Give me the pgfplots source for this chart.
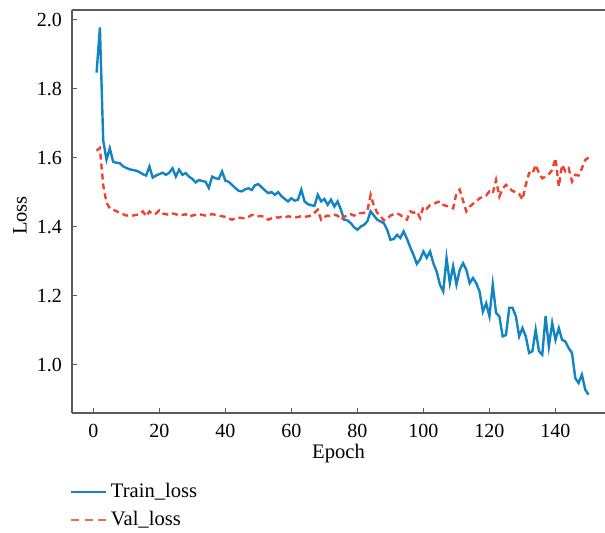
\documentclass[border=0pt]{standalone}
\usepackage{fontspec}
\setmainfont{Liberation Serif}
\usepackage{pgfplots}
\pgfplotsset{compat=1.18}
\definecolor{trainblue}{RGB}{18,132,196}
\definecolor{valred}{RGB}{240,66,50}
\definecolor{axgray}{RGB}{90,90,90}
\begin{document}
\begin{tikzpicture}
\begin{axis}[
  at={(0,0)}, anchor=south west,
  scale only axis,
  width=266.5pt, height=201.5pt,
  xmin=-6.45, xmax=155, ymin=0.86, ymax=2.0275,
  axis x line=box, axis y line=left,
  axis line style={-, draw=axgray, line width=0.75pt},
  y axis line style={-},
  every outer y axis line/.append style={-},
  xtick={0,20,40,60,80,100,120,140},
  ytick={1.0,1.2,1.4,1.6,1.8,2.0},
  xtick pos=left, ytick pos=left,
  tick align=inside,
  major tick length=2.6pt,
  every tick/.style={axgray, line width=0.6pt},
  /pgf/number format/assume math mode=true,
  yticklabel style={/pgf/number format/fixed, /pgf/number format/fixed zerofill, /pgf/number format/precision=1, anchor=east, inner sep=0pt, xshift=-4.85pt},
  xticklabel style={anchor=base, inner sep=0pt, yshift=-12.4pt},
  tick label style={font=\fontsize{10}{12}\selectfont},
  label style={font=\fontsize{10.3}{12}\selectfont},
  xlabel={Epoch},
  xlabel style={at={(axis description cs:0.5,0)}, anchor=base, yshift=-22.9pt},
  ylabel={Loss},
  ylabel style={at={(axis description cs:-0.0976,0.49)}, anchor=center, rotate=0},
  legend style={at={(axis description cs:0,0)}, anchor=north west, xshift=-1pt, yshift=-33pt, draw=none, fill=none, font=\fontsize{10.3}{12}\selectfont, row sep=1.2pt, inner sep=0pt},
  legend cell align=left,
]
\addplot[draw=trainblue, line width=1.2pt,
  legend image code/.code={\draw[trainblue, line width=0.7pt] (0pt,0pt) -- (17.5pt,0pt);}] coordinates {
(1,1.846)(2,1.977)(3,1.65)(4,1.594)(5,1.627)(6,1.588)(7,1.585)(8,1.584)(9,1.575)(10,1.57)
(11,1.566)(12,1.564)(13,1.562)(14,1.558)(15,1.552)(16,1.548)(17,1.574)(18,1.542)(19,1.548)(20,1.552)
(21,1.556)(22,1.550)(23,1.556)(24,1.569)(25,1.545)(26,1.565)(27,1.550)(28,1.555)(29,1.545)(30,1.538)
(31,1.528)(32,1.535)(33,1.532)(34,1.530)(35,1.512)(36,1.545)(37,1.540)(38,1.538)(39,1.560)(40,1.533)
(41,1.530)(42,1.521)(43,1.512)(44,1.504)(45,1.502)(46,1.508)(47,1.511)(48,1.506)(49,1.520)(50,1.523)
(51,1.514)(52,1.505)(53,1.497)(54,1.500)(55,1.492)(56,1.500)(57,1.488)(58,1.480)(59,1.473)(60,1.482)
(61,1.475)(62,1.478)(63,1.507)(64,1.473)(65,1.465)(66,1.462)(67,1.460)(68,1.492)(69,1.473)(70,1.480)
(71,1.463)(72,1.478)(73,1.458)(74,1.473)(75,1.449)(76,1.420)(77,1.418)(78,1.410)(79,1.398)(80,1.391)
(81,1.400)(82,1.405)(83,1.415)(84,1.444)(85,1.432)(86,1.420)(87,1.415)(88,1.410)(89,1.391)(90,1.362)
(91,1.364)(92,1.376)(93,1.367)(94,1.386)(95,1.365)(96,1.340)(97,1.318)(98,1.292)(99,1.305)(100,1.328)
(101,1.310)(102,1.328)(103,1.294)(104,1.270)(105,1.232)(106,1.212)(107,1.309)(108,1.236)(109,1.285)(110,1.232)
(111,1.275)(112,1.294)(113,1.275)(114,1.236)(115,1.251)(116,1.236)(117,1.212)(118,1.154)(119,1.178)(120,1.140)
(121,1.232)(122,1.150)(123,1.140)(124,1.082)(125,1.086)(126,1.165)(127,1.165)(128,1.140)(129,1.082)(130,1.106)
(131,1.082)(132,1.034)(133,1.039)(134,1.101)(135,1.039)(136,1.029)(137,1.140)(138,1.053)(139,1.121)(140,1.072)
(141,1.106)(142,1.072)(143,1.067)(144,1.048)(145,1.034)(146,0.961)(147,0.947)(148,0.971)(149,0.928)(150,0.913)
};
\addlegendentry{Train\_loss}
\addplot[draw=valred, line width=1.2pt, dash pattern=on 3pt off 2pt,
  legend image code/.code={\draw[valred!80, line width=0.8pt, dash pattern=on 4pt off 2.8pt] (0pt,0pt) -- (17.5pt,0pt);}] coordinates {
(1,1.620)(2,1.628)(3,1.520)(4,1.470)(5,1.453)(6,1.449)(7,1.445)(8,1.439)(9,1.436)(10,1.432)
(11,1.433)(12,1.432)(13,1.434)(14,1.436)(15,1.444)(16,1.430)(17,1.444)(18,1.436)(19,1.438)(20,1.447)
(21,1.438)(22,1.436)(23,1.434)(24,1.438)(25,1.436)(26,1.432)(27,1.434)(28,1.436)(29,1.428)(30,1.432)
(31,1.434)(32,1.436)(33,1.434)(34,1.432)(35,1.434)(36,1.436)(37,1.434)(38,1.432)(39,1.430)(40,1.428)
(41,1.424)(42,1.420)(43,1.424)(44,1.426)(45,1.425)(46,1.424)(47,1.428)(48,1.434)(49,1.432)(50,1.430)
(51,1.430)(52,1.428)(53,1.420)(54,1.424)(55,1.428)(56,1.426)(57,1.428)(58,1.426)(59,1.430)(60,1.428)
(61,1.426)(62,1.428)(63,1.430)(64,1.428)(65,1.430)(66,1.432)(67,1.440)(68,1.449)(69,1.420)(70,1.428)
(71,1.432)(72,1.430)(73,1.434)(74,1.432)(75,1.420)(76,1.428)(77,1.434)(78,1.436)(79,1.432)(80,1.438)
(81,1.439)(82,1.440)(83,1.445)(84,1.492)(85,1.460)(86,1.440)(87,1.430)(88,1.418)(89,1.422)(90,1.432)
(91,1.436)(92,1.438)(93,1.434)(94,1.425)(95,1.420)(96,1.444)(97,1.440)(98,1.444)(99,1.425)(100,1.458)
(101,1.452)(102,1.462)(103,1.465)(104,1.470)(105,1.473)(106,1.463)(107,1.460)(108,1.458)(109,1.453)(110,1.497)
(111,1.507)(112,1.475)(113,1.444)(114,1.458)(115,1.466)(116,1.473)(117,1.482)(118,1.486)(119,1.490)(120,1.502)
(121,1.496)(122,1.535)(123,1.487)(124,1.510)(125,1.521)(126,1.512)(127,1.503)(128,1.500)(129,1.495)(130,1.478)
(131,1.521)(132,1.555)(133,1.552)(134,1.579)(135,1.555)(136,1.540)(137,1.545)(138,1.552)(139,1.564)(140,1.598)
(141,1.516)(142,1.579)(143,1.560)(144,1.569)(145,1.531)(146,1.550)(147,1.548)(148,1.569)(149,1.593)(150,1.600)
};
\addlegendentry{Val\_loss}
\end{axis}
\pgfresetboundingbox
\path (-36pt,-59.5pt) rectangle (266.5pt,206.5pt);
\end{tikzpicture}
\end{document}
